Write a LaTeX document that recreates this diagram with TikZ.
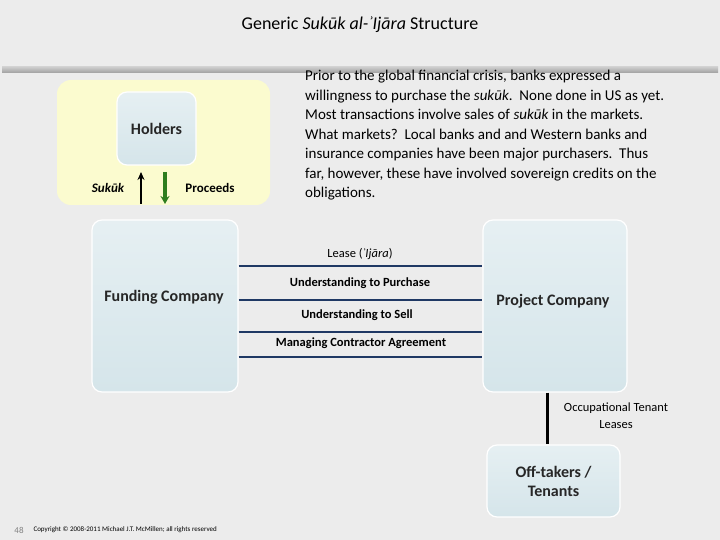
\documentclass[tikz,border=0pt]{standalone}
\usepackage{fontspec}
\setmainfont{Carlito}
\usetikzlibrary{arrows.meta}
\definecolor{bg}{HTML}{ECECEC}
\definecolor{boxc}{HTML}{D5E5EA}
\definecolor{navy}{HTML}{1F3864}
\definecolor{pale}{HTML}{FBFBCF}
\definecolor{grn}{HTML}{2E7D1E}
\begin{document}
\begin{tikzpicture}[x=1pt,y=-1pt,
  ent/.style={draw=white, line width=1.2pt, rounded corners=10pt, top color=boxc!60!white, bottom color=boxc, font=\fontsize{16}{19}\selectfont\bfseries, align=center, text=black!85},
  rel/.style={draw=navy, line width=1.8pt},
  lab/.style={font=\fontsize{12.5}{14}\selectfont, text=black}]
\useasboundingbox (0,0) rectangle (720,540);
\fill[bg] (0,0) rectangle (720,540);
\node[font=\fontsize{18}{20}\selectfont] (title) at (360,25) {Generic \textit{Sukūk al-ʾIjāra} Structure};
\shade[top color=gray!40, bottom color=gray!75] (2,67) rectangle (718,73);
\node[draw=none, fill=pale, rounded corners=14pt, minimum width=213pt, minimum height=125pt] (panel) at (163.5,142.5) {};
\node[ent, minimum width=79pt, minimum height=73pt] (hold) at (156.5,128.5) {Holders};
\coordinate (hb) at (141,172);
\coordinate (hb2) at (165,172);
\coordinate (pb) at (141,204);
\coordinate (pb2) at (165,204);
\draw[line width=2.2pt, -{Stealth[length=8pt,width=7pt]}] (pb) -- (hb);
\draw[line width=3.5pt, grn, -{Stealth[length=8pt,width=9pt]}] (hb2) -- (pb2);
\node[font=\fontsize{13}{15}\selectfont\bfseries\itshape] (suk) at (108,188) {Sukūk};
\node[font=\fontsize{13}{15}\selectfont\bfseries] (proc) at (210,188) {Proceeds};
\node[anchor=north west, align=left, font=\fontsize{15}{19.5}\selectfont, inner sep=0pt] (para) at (305,70) {Prior to the global financial crisis, banks expressed a\\ willingness to purchase the \textit{sukūk}.\ \ None done in US as yet.\\ Most transactions involve sales of \textit{sukūk} in the markets.\\ What markets?\ \ Local banks and and Western banks and\\ insurance companies have been major purchasers.\ \ Thus\\ far, however, these have involved sovereign credits on the\\ obligations.};
\node[ent, minimum width=146pt, minimum height=172pt] (fund) at (165,306) {};
\node[font=\fontsize{16}{19}\selectfont\bfseries, text=black!85] (fundt) at (164,297) {Funding Company};
\node[ent, minimum width=144pt, minimum height=172pt] (proj) at (555,306) {};
\node[font=\fontsize{16}{19}\selectfont\bfseries, text=black!85] (projt) at (553,301) {Project Company};
\draw[rel] (fund.east |- 0,266) -- (proj.west |- 0,266);
\draw[rel] (fund.east |- 0,300) -- (proj.west |- 0,300);
\draw[rel] (fund.east |- 0,332) -- (proj.west |- 0,332);
\draw[rel] (fund.east |- 0,357) -- (proj.west |- 0,357);
\node[lab] (l1) at (360,254) {Lease (\textit{ʾIjāra})};
\node[lab, font=\fontsize{12.5}{14}\selectfont\bfseries] (l2) at (360,283) {Understanding to Purchase};
\node[lab, font=\fontsize{12.5}{14}\selectfont\bfseries] (l3) at (357,315) {Understanding to Sell};
\node[lab, font=\fontsize{12.5}{14}\selectfont\bfseries] (l4) at (361,343) {Managing Contractor Agreement};
\node[ent, minimum width=133pt, minimum height=72pt] (off) at (553.5,481) {Off-takers /\\ Tenants};
\draw[line width=3pt] (proj.south -| 547,0) -- (off.north -| 547,0);
\node[lab, align=center, font=\fontsize{12.5}{17}\selectfont] (occ) at (616,416) {Occupational Tenant\\ Leases};
\node[font=\fontsize{9}{10}\selectfont, text=gray] (pg) at (19,530) {48};
\node[anchor=west, font=\fontsize{7}{8}\selectfont] (copy) at (30,530) {Copyright © 2008-2011 Michael J.T. McMillen; all rights reserved};
\end{tikzpicture}
\end{document}
